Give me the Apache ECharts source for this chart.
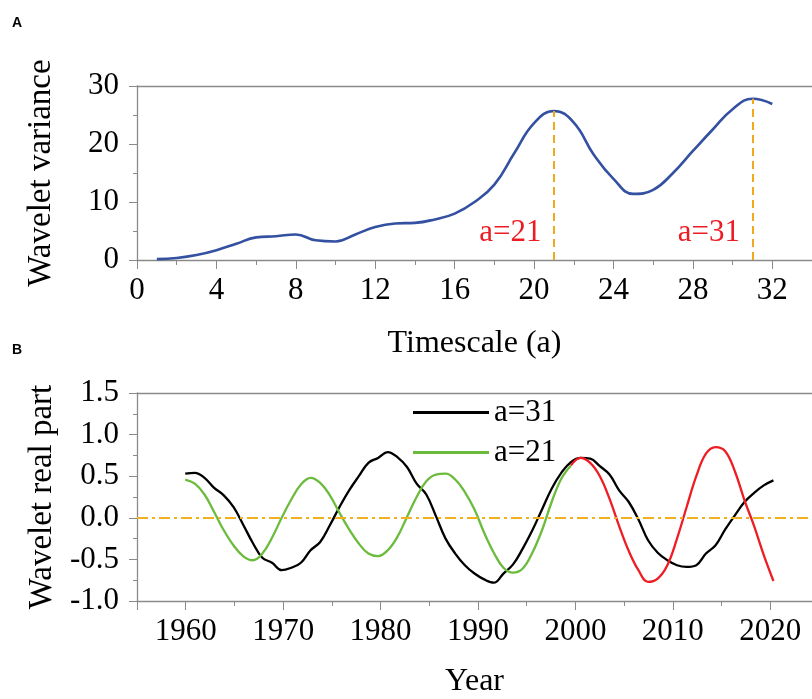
<!DOCTYPE html>
<html><head><meta charset="utf-8">
<script src="https://cdn.jsdelivr.net/npm/echarts@6/dist/echarts.min.js"></script>
<style>html,body{margin:0;padding:0;background:#fff;overflow:hidden}#c{width:812px;height:699px}</style>
</head><body><div id="c"></div>
<script>
// ---- Panel A data ----
const scales = [1,2,3,4,5,6,7,8,9,10,11,12,13,14,15,16,17,18,19,20,21,22,23,24,25,26,27,28,29,30,31,32];
const variance = [0.15,0.35,0.85,1.7,2.8,3.9,4.1,4.4,3.4,3.2,4.4,5.7,6.3,6.4,7.0,8.0,10.0,13.0,18.4,23.6,25.7,23.7,18.2,14.0,11.4,12.1,15.0,18.8,22.5,26.0,27.8,26.9];
const peakScales = [21, 31];
const peakLabels = ['a=21', 'a=31'];

// ---- Panel B data ----
const years = [1960,1961,1962,1963,1964,1965,1966,1967,1968,1969,1970,1971,1972,1973,1974,1975,1976,1977,1978,1979,1980,1981,1982,1983,1984,1985,1986,1987,1988,1989,1990,1991,1992,1993,1994,1995,1996,1997,1998,1999,2000,2001,2002,2003,2004,2005,2006,2007,2008,2009,2010,2011,2012,2013,2014,2015,2016,2017,2018,2019,2020,2021];
const real31 = [0.53,0.54,0.48,0.36,0.27,0.13,-0.08,-0.30,-0.48,-0.54,-0.63,-0.60,-0.54,-0.39,-0.29,-0.09,0.13,0.33,0.50,0.66,0.72,0.79,0.73,0.61,0.41,0.28,0.02,-0.25,-0.43,-0.57,-0.67,-0.74,-0.78,-0.67,-0.56,-0.37,-0.15,0.10,0.35,0.54,0.67,0.72,0.71,0.62,0.52,0.33,0.19,-0.02,-0.27,-0.42,-0.51,-0.57,-0.59,-0.57,-0.43,-0.33,-0.14,0.03,0.19,0.30,0.39,0.45];
const years21a = [1960,1961,1962,1963,1964,1965,1966,1967,1968,1969,1970,1971,1972,1973,1974,1975,1976,1977,1978,1979,1980,1981,1982,1983,1984,1985,1986,1987,1988,1989,1990,1991,1992,1993,1994,1995,1996,1997,1998,1999,2000];
const real21a = [0.46,0.41,0.28,0.07,-0.15,-0.33,-0.46,-0.51,-0.43,-0.24,0.0,0.22,0.40,0.48,0.42,0.27,0.06,-0.14,-0.31,-0.43,-0.46,-0.39,-0.23,0.01,0.25,0.44,0.52,0.53,0.46,0.31,0.10,-0.18,-0.42,-0.60,-0.66,-0.61,-0.42,-0.15,0.19,0.47,0.63];
const years21b = [2000,2001,2002,2003,2004,2005,2006,2007,2008,2009,2010,2011,2012,2013,2014,2015,2016,2017,2018,2019,2020,2021];
const real21b = [0.63,0.72,0.66,0.50,0.23,-0.10,-0.40,-0.63,-0.77,-0.73,-0.57,-0.25,0.13,0.50,0.77,0.85,0.80,0.56,0.21,-0.10,-0.45,-0.76];
const legendNames = ['a=31', 'a=21'];

const SERIF = '"Liberation Serif","Times New Roman",serif';
const AX = '#8a8a8a';
const pairs = (xs, ys) => xs.map((x, i) => [x, ys[i]]);

const chart = echarts.init(document.getElementById('c'), null, {renderer: 'canvas'});
const lineAx = {show: true, onZero: false, lineStyle: {color: AX, width: 1.3}};
const lbl = {color: '#000', fontFamily: SERIF, fontSize: 31};
const nameStyle = {color: '#000', fontFamily: SERIF, fontSize: 32};
const yNameStyle = {color: '#000', fontFamily: SERIF, fontSize: 33};

chart.setOption({
  animation: false,
  backgroundColor: '#fff',
  graphic: [
    {type: 'text', left: 12, top: 16.5, style: {text: 'A', font: 'bold 14px "Liberation Sans", Arial, sans-serif', fill: '#000'}},
    {type: 'text', left: 12, top: 343, style: {text: 'B', font: 'bold 14px "Liberation Sans", Arial, sans-serif', fill: '#000'}}
  ],
  grid: [
    {left: 137, top: 86, width: 682, height: 174},
    {left: 137, top: 393, width: 682, height: 208},
    {left: 137 + 682 * 5 / 70, top: 393, width: 682 * 60 / 70, height: 208}
  ],
  legend: {
    data: legendNames, orient: 'vertical', left: 408, top: 392, icon: 'rect',
    itemWidth: 76, itemHeight: 3, itemGap: 9,
    textStyle: {color: '#000', fontFamily: SERIF, fontSize: 31}
  },
  xAxis: [
    {gridIndex: 0, type: 'value', min: 0, max: 34, interval: 4, position: 'bottom',
     axisLine: lineAx, axisTick: {show: true, length: 9, lineStyle: {color: AX}},
     minorTick: {show: true, splitNumber: 2, length: 5, lineStyle: {color: AX}},
     splitLine: {show: false},
     axisLabel: Object.assign({margin: 15, showMaxLabel: false, formatter: v => v > 32 ? '' : String(v)}, lbl),
     name: 'Timescale (a)', nameLocation: 'middle', nameGap: 68, nameTextStyle: nameStyle},
    {gridIndex: 0, type: 'value', min: 0, max: 34, position: 'top',
     axisLine: lineAx, axisTick: {show: false}, axisLabel: {show: false}, splitLine: {show: false}},
    {gridIndex: 1, type: 'value', min: 1955, max: 2025, interval: 70, position: 'bottom',
     axisLine: lineAx, axisTick: {show: true, length: 9, lineStyle: {color: AX}},
     axisLabel: {show: false}, splitLine: {show: false},
     name: 'Year', nameLocation: 'middle', nameGap: 65, nameTextStyle: nameStyle},
    {gridIndex: 1, type: 'value', min: 1955, max: 2025, position: 'top',
     axisLine: lineAx, axisTick: {show: false}, axisLabel: {show: false}, splitLine: {show: false}},
    {gridIndex: 2, type: 'value', min: 1960, max: 2020, interval: 10, position: 'bottom',
     axisLine: {show: false, onZero: false}, axisTick: {show: true, length: 9, lineStyle: {color: AX}},
     minorTick: {show: true, splitNumber: 2, length: 5, lineStyle: {color: AX}},
     splitLine: {show: false},
     axisLabel: Object.assign({margin: 15, formatter: v => String(v)}, lbl)}
  ],
  yAxis: [
    {gridIndex: 0, type: 'value', min: 0, max: 30, interval: 10,
     axisLine: lineAx, axisTick: {show: true, length: 8, lineStyle: {color: AX}},
     minorTick: {show: true, splitNumber: 2, length: 4, lineStyle: {color: AX}},
     splitLine: {show: false},
     axisLabel: Object.assign({margin: 18}, lbl),
     name: 'Wavelet variance', nameLocation: 'middle', nameGap: 79, nameTextStyle: yNameStyle},
    {gridIndex: 1, type: 'value', min: -1, max: 1.5, interval: 0.5,
     axisLine: lineAx, axisTick: {show: true, length: 8, lineStyle: {color: AX}},
     minorTick: {show: true, splitNumber: 2, length: 4, lineStyle: {color: AX}},
     splitLine: {show: false},
     axisLabel: Object.assign({margin: 18, formatter: v => v.toFixed(1)}, lbl),
     name: 'Wavelet real part', nameLocation: 'middle', nameGap: 78, nameTextStyle: yNameStyle},
    {gridIndex: 2, type: 'value', min: 0, max: 1, show: false}
  ],
  series: [
    {type: 'line', name: 'variance', xAxisIndex: 0, yAxisIndex: 0, data: pairs(scales, variance),
     smooth: 0.45, symbol: 'none', lineStyle: {color: '#3451a1', width: 2.6}, z: 3,
     markLine: {silent: true, symbol: 'none', label: {show: false},
       lineStyle: {color: '#f2a81c', type: [8, 5], width: 2},
       data: peakScales.map(s => [{coord: [s, 0]}, {coord: [s, variance[scales.indexOf(s)]]}])},
     markPoint: {silent: true, symbol: 'circle', symbolSize: 1, itemStyle: {color: 'rgba(0,0,0,0)'},
       label: {show: true, position: 'left', distance: 12, offset: [0, -27.5], formatter: '{b}',
               color: '#ec1c24', fontFamily: SERIF, fontSize: 31},
       data: peakScales.map((s, i) => ({name: peakLabels[i], coord: [s, 0]}))}
    },
    {type: 'line', name: 'a=31', xAxisIndex: 2, yAxisIndex: 1, data: pairs(years, real31),
     smooth: 0.4, symbol: 'none', lineStyle: {color: '#000', width: 2.3}, itemStyle: {color: '#000'}, z: 3,
     markLine: {silent: true, symbol: 'none', label: {show: false},
       lineStyle: {color: '#f0b020', type: [11, 4, 3, 4], width: 2},
       data: [{yAxis: 0}]}},
    {type: 'line', name: 'a=21', xAxisIndex: 2, yAxisIndex: 1, data: pairs(years21a, real21a),
     smooth: 0.4, symbol: 'none', lineStyle: {color: '#6bbb3d', width: 2.3}, itemStyle: {color: '#6bbb3d'}, z: 3},
    {type: 'line', name: 'a=21 (2000-2021)', xAxisIndex: 2, yAxisIndex: 1, data: pairs(years21b, real21b),
     smooth: 0.4, symbol: 'none', lineStyle: {color: '#ee1d23', width: 2.3}, itemStyle: {color: '#ee1d23'}, z: 3}
  ]
});
</script></body></html>
